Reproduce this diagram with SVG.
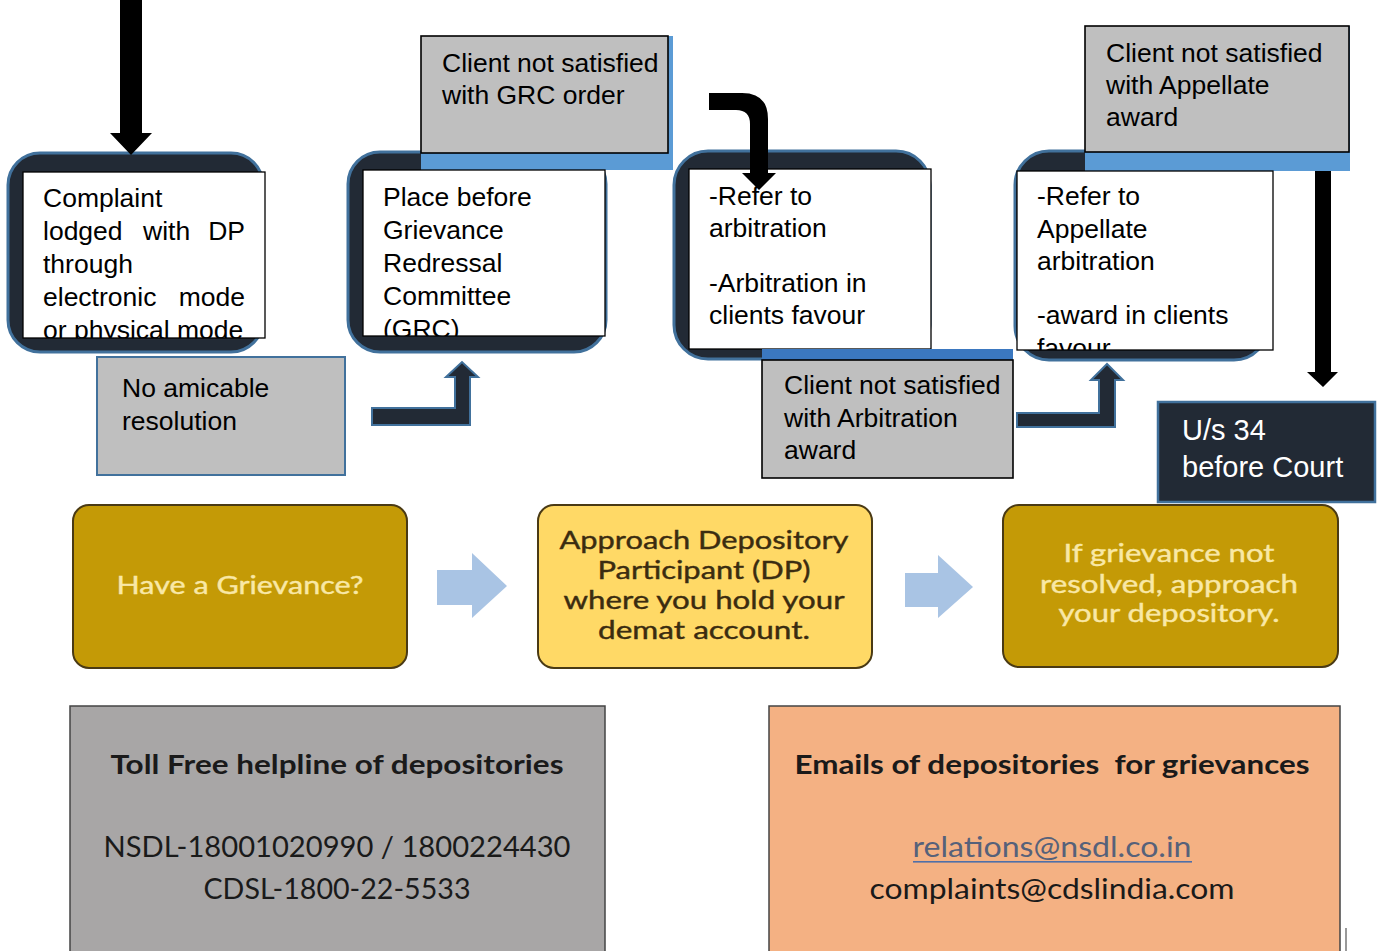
<svg xmlns="http://www.w3.org/2000/svg" width="1380" height="951" viewBox="0 0 1380 951">
<style>
.dk{fill:#222a35;stroke:#41719c;stroke-width:3}
.wt{fill:#fff;stroke:#000;stroke-width:1.3}
.gy{fill:#bfbfbf;stroke:#000;stroke-width:1.6}
.band{fill:#5b9bd5}
.t{font-family:"Liberation Sans",Arial,sans-serif;font-size:26.5px;fill:#000}
.cal{font-family:Lato,"Open Sans",sans-serif}
.gold{fill:#c49a06;stroke:#4a3a14;stroke-width:2}
.gtx{font-size:25px;font-weight:normal;fill:#f9e8a6;text-anchor:middle;stroke:#f9e8a6;stroke-width:0.4}
.btx{font-size:25px;font-weight:normal;fill:#3b2c10;text-anchor:middle;stroke:#3b2c10;stroke-width:0.4}
.blk{fill:#000}
.bent{fill:#222a35;stroke:#41719c;stroke-width:2}
.larr{fill:#a9c4e4}
</style>
<defs>
<clipPath id="c1"><rect x="23" y="172" width="242" height="166"/></clipPath>
<clipPath id="c2"><rect x="363" y="170" width="242" height="166"/></clipPath>
<clipPath id="c3"><rect x="689" y="169" width="242" height="180"/></clipPath>
<clipPath id="c4"><rect x="1017" y="171" width="256" height="179"/></clipPath>
</defs>
<rect width="1380" height="951" fill="#fff"/>

<g id="node-complaint">
<rect class="dk" x="8" y="153" width="255" height="199" rx="32"/>
<rect class="wt" x="23" y="172" width="242" height="166"/>
<g class="t" clip-path="url(#c1)">
<text x="43" y="207">Complaint</text>
<text x="43" y="240">lodged</text><text x="143" y="240">with</text><text x="245" y="240" text-anchor="end">DP</text>
<text x="43" y="273">through</text>
<text x="43" y="306">electronic</text><text x="245" y="306" text-anchor="end">mode</text>
<text x="43" y="339">or physical mode</text>
</g>
</g>

<g id="node-no-amicable">
<rect x="97" y="357" width="248" height="118" fill="#bfbfbf" stroke="#41719c" stroke-width="2"/>
<text class="t" x="122" y="397">No amicable</text>
<text class="t" x="122" y="430">resolution</text>
</g>

<g id="node-grc">
<rect class="dk" x="348" y="152" width="258" height="200" rx="32"/>
<rect class="band" x="421" y="36" width="252" height="134"/>
<rect class="gy" x="421" y="36" width="247" height="117"/>
<text class="t" x="442" y="72">Client not satisfied</text>
<text class="t" x="442" y="104">with GRC order</text>
<rect class="wt" x="363" y="170" width="242" height="166"/>
<g class="t" clip-path="url(#c2)">
<text x="383" y="206">Place before</text>
<text x="383" y="239">Grievance</text>
<text x="383" y="272">Redressal</text>
<text x="383" y="305">Committee</text>
<text x="383" y="338">(GRC)</text>
</g>
</g>

<g id="node-arbitration">
<rect class="dk" x="674" y="151" width="256" height="208" rx="34"/>
<rect class="wt" x="689" y="169" width="242" height="180"/>
<g class="t" clip-path="url(#c3)">
<text x="709" y="205">-Refer to</text>
<text x="709" y="237">arbitration</text>
<text x="709" y="292">-Arbitration in</text>
<text x="709" y="324">clients favour</text>
</g>
</g>

<g id="node-arb-not-satisfied">
<rect fill="#3b78c0" x="762" y="349" width="251" height="11"/>
<rect class="gy" x="762" y="360" width="251" height="118"/>
<text class="t" x="784" y="394">Client not satisfied</text>
<text class="t" x="784" y="427">with Arbitration</text>
<text class="t" x="784" y="459">award</text>
</g>

<g id="node-appellate">
<rect class="dk" x="1015" y="151" width="253" height="209" rx="34"/>
<rect class="band" x="1085" y="26" width="265" height="145"/>
<rect class="gy" x="1085" y="26" width="264" height="126"/>
<text class="t" x="1106" y="62">Client not satisfied</text>
<text class="t" x="1106" y="94">with Appellate</text>
<text class="t" x="1106" y="126">award</text>
<rect class="wt" x="1017" y="171" width="256" height="179"/>
<g class="t" clip-path="url(#c4)">
<text x="1037" y="205">-Refer to</text>
<text x="1037" y="238">Appellate</text>
<text x="1037" y="270">arbitration</text>
<text x="1037" y="324">-award in clients</text>
<text x="1037" y="357">favour</text>
</g>
</g>

<g id="node-court">
<rect x="1158" y="402" width="217" height="100" fill="#222a35" stroke="#41719c" stroke-width="2.5"/>
<text class="t" x="1182" y="440" style="font-size:29px;fill:#fff">U/s 34</text>
<text class="t" x="1182" y="477" style="font-size:29px;fill:#fff">before Court</text>
</g>

<g id="node-have-grievance">
<rect class="gold" x="73" y="505" width="334" height="163" rx="16"/>
<text class="cal gtx" x="240" y="594" textLength="247" lengthAdjust="spacingAndGlyphs">Have a Grievance?</text>
</g>

<g id="node-approach-dp">
<rect x="538" y="505" width="334" height="163" rx="16" fill="#ffd966" stroke="#4a3a14" stroke-width="2"/>
<text class="cal btx" x="704" y="549" textLength="289" lengthAdjust="spacingAndGlyphs">Approach Depository</text>
<text class="cal btx" x="704" y="579" textLength="213" lengthAdjust="spacingAndGlyphs">Participant (DP)</text>
<text class="cal btx" x="704" y="609" textLength="281" lengthAdjust="spacingAndGlyphs">where you hold your</text>
<text class="cal btx" x="704" y="639" textLength="212" lengthAdjust="spacingAndGlyphs">demat account.</text>
</g>

<g id="node-approach-depository">
<rect class="gold" x="1003" y="505" width="335" height="162" rx="16"/>
<text class="cal gtx" x="1169" y="562" textLength="211" lengthAdjust="spacingAndGlyphs">If grievance not</text>
<text class="cal gtx" x="1169" y="593" textLength="258" lengthAdjust="spacingAndGlyphs">resolved, approach</text>
<text class="cal gtx" x="1169" y="622" textLength="221" lengthAdjust="spacingAndGlyphs">your depository.</text>
</g>

<g id="node-helpline">
<rect x="70" y="706" width="535" height="250" fill="#a8a6a6" stroke="#444" stroke-width="1.5"/>
<text class="cal" x="337" y="774" text-anchor="middle" font-size="26" font-weight="bold" fill="#1a1a1a" textLength="453" lengthAdjust="spacingAndGlyphs">Toll Free helpline of depositories</text>
<text class="cal" x="337" y="857" text-anchor="middle" font-size="28" fill="#1a1a1a" textLength="467" lengthAdjust="spacingAndGlyphs">NSDL-18001020990 / 1800224430</text>
<text class="cal" x="337" y="899" text-anchor="middle" font-size="28" fill="#1a1a1a" textLength="267" lengthAdjust="spacingAndGlyphs">CDSL-1800-22-5533</text>
</g>

<g id="node-emails">
<rect x="769" y="706" width="571" height="250" fill="#f4b183" stroke="#444" stroke-width="1.5"/>
<text class="cal" x="1052" y="774" text-anchor="middle" font-size="26" font-weight="bold" fill="#1a1a1a" textLength="515" lengthAdjust="spacingAndGlyphs" style="white-space:pre" xml:space="preserve">Emails of depositories  for grievances</text>
<text class="cal" x="1052" y="857" text-anchor="middle" font-size="28" fill="#56617a" textLength="279" lengthAdjust="spacingAndGlyphs">relations@nsdl.co.in</text>
<rect x="913" y="861" width="279" height="1.6" fill="#4f6fa8"/>
<text class="cal" x="1052" y="899" text-anchor="middle" font-size="28" fill="#1a1a1a" textLength="365" lengthAdjust="spacingAndGlyphs">complaints@cdslindia.com</text>
<rect x="1345" y="928" width="2" height="23" fill="#999"/>
</g>

<g id="connectors">
<path class="blk" d="M120,0 H142 V133 H152 L131,155 L110,133 H120 Z"/>
<path class="bent" d="M372,408 H455 V377 H446 L462,362 L478,377 H470 V425 H372 Z"/>
<path class="blk" d="M709,93 H742 Q768,93 768,119 V173 H776 L759,190 L742,173 H750 V124 Q750,110 736,110 H709 Z"/>
<path class="bent" d="M1017,413 H1099 V380 H1091 L1107,364 L1123,380 H1115 V427 H1017 Z"/>
<path class="blk" d="M1315,171 H1331 V372 H1338 L1323,387 L1307,372 H1315 Z"/>
<path class="larr" d="M437,570 H472 V553 L507,586 L472,618 V605 H437 Z"/>
<path class="larr" d="M905,573 H938 V555 L973,587 L938,618 V607 H905 Z"/>
</g>
</svg>
